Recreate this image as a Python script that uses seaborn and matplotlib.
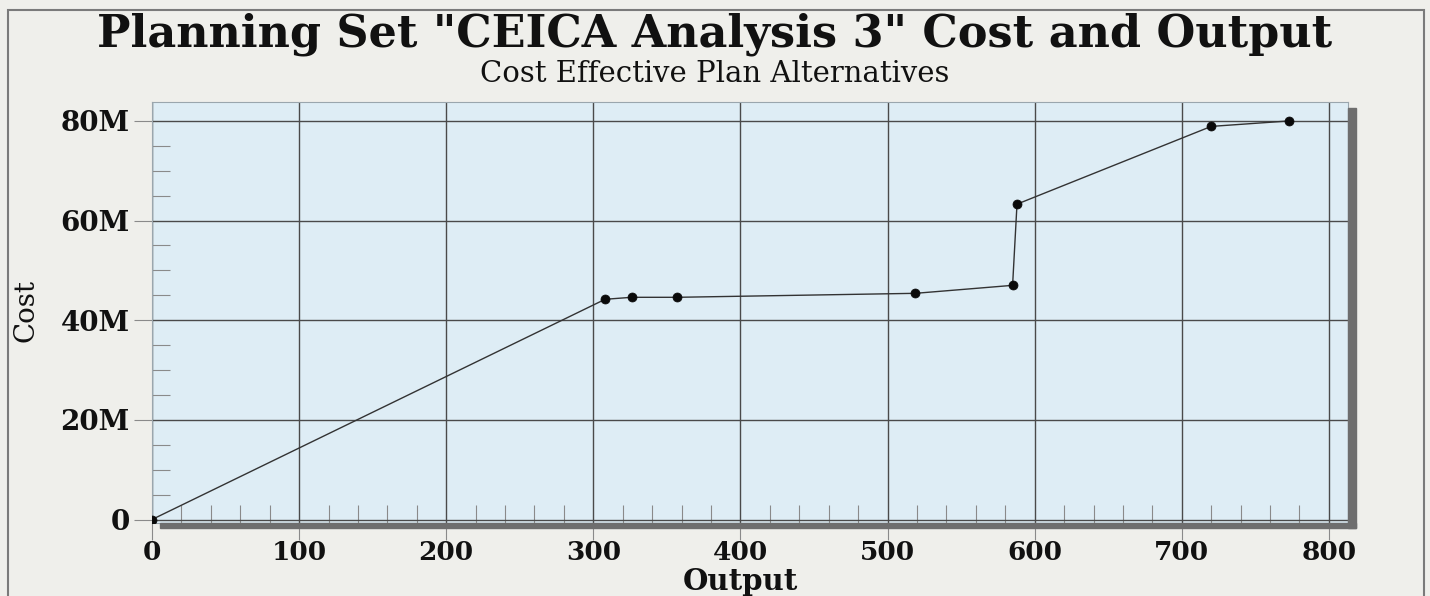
import matplotlib
matplotlib.use("Agg")
import matplotlib.pyplot as plt
from matplotlib.patches import Rectangle
from matplotlib.ticker import FuncFormatter, MultipleLocator
import seaborn as sns
import pandas as pd

output = [0, 308, 326, 357, 519, 585, 588, 720, 773]
cost_m = [0, 44.2, 44.6, 44.6, 45.4, 47.0, 63.3, 78.9, 80.0]
x_ticks = [0, 100, 200, 300, 400, 500, 600, 700, 800]
y_ticks = [0, 20, 40, 60, 80]

df = pd.DataFrame({"Output": output, "Cost": cost_m})

sns.set_theme(style="white")
plt.rcParams["font.family"] = ["DejaVu Serif", "Liberation Serif"]

W, H = 1430, 596
fig = plt.figure(figsize=(W / 100, H / 100), dpi=100)
fig.patch.set_facecolor("#efefeb")

def fx(px):
    return px / W

def fy(py):
    return 1 - py / H

left, right, top, bottom = 152, 1348, 102, 523
ax = fig.add_axes([fx(left), fy(bottom), fx(right - left), (bottom - top) / H])

# drop shadow
fig.patches.append(Rectangle((fx(160), fy(528)), fx(right + 8 - 160), (528 - bottom) / H,
                             transform=fig.transFigure, color="#6e6e6e", zorder=0))
fig.patches.append(Rectangle((fx(right), fy(528)), fx(8), (528 - 108) / H,
                             transform=fig.transFigure, color="#6e6e6e", zorder=0))
# figure frame
fig.patches.append(Rectangle((fx(8), fy(H + 5)), fx(W - 14), (H + 5 - 10) / H,
                             transform=fig.transFigure, fill=False, edgecolor="#7a7a7a",
                             linewidth=1.5, zorder=0))

ax.set_facecolor("#deedf5")
for s in ax.spines.values():
    s.set_color("#9aa6ad")
    s.set_linewidth(0.8)

sns.lineplot(data=df, x="Output", y="Cost", estimator=None, sort=False, ax=ax,
             color="#333333", linewidth=1.0, zorder=3)
sns.scatterplot(data=df, x="Output", y="Cost", ax=ax, color="#0a0a0a", s=42,
                marker="o", edgecolor="#0a0a0a", zorder=4)

ax.set_xlim(0, 813)
ax.set_ylim(-0.7, 83.8)
ax.set_xticks(x_ticks)
ax.set_yticks(y_ticks)
ax.xaxis.set_minor_locator(MultipleLocator(20))
ax.yaxis.set_minor_locator(MultipleLocator(5))
ax.yaxis.set_major_formatter(FuncFormatter(lambda v, p: "0" if v == 0 else f"{int(v)}M"))

ax.grid(True, which="major", color="#4a4a4a", linewidth=1.0, zorder=1)
ax.set_axisbelow(True)

ax.tick_params(axis="both", which="major", direction="out", length=13, width=0.8,
               color="#8a8a8a", labelsize=19, pad=3)
ax.tick_params(axis="x", which="major", length=12, pad=0)
ax.tick_params(axis="both", which="minor", direction="in", length=13, width=0.8,
               color="#8a8a8a")
ax.tick_params(axis="both", which="both", bottom=True, left=True, top=False, right=False)
for lab in ax.get_xticklabels() + ax.get_yticklabels():
    lab.set_fontweight("bold")
    lab.set_color("#111111")
for lab in ax.get_yticklabels():
    lab.set_fontsize(20)

ax.set_xlabel("")
ax.set_ylabel("")
fig.text(fx(740), fy(582), "Output", ha="center", va="center", fontsize=21,
         fontweight="bold", color="#111111")
fig.text(fx(26), fy(310), "Cost", ha="center", va="center", rotation=90,
         fontsize=20, color="#111111")

fig.text(0.5, fy(34), 'Planning Set "CEICA Analysis 3" Cost and Output', ha="center",
         va="center", fontsize=32, fontweight="bold", color="#111111")
fig.text(0.5, fy(74), "Cost Effective Plan Alternatives", ha="center", va="center",
         fontsize=21, color="#111111")

fig.savefig("out.png", dpi=100, facecolor=fig.get_facecolor())
